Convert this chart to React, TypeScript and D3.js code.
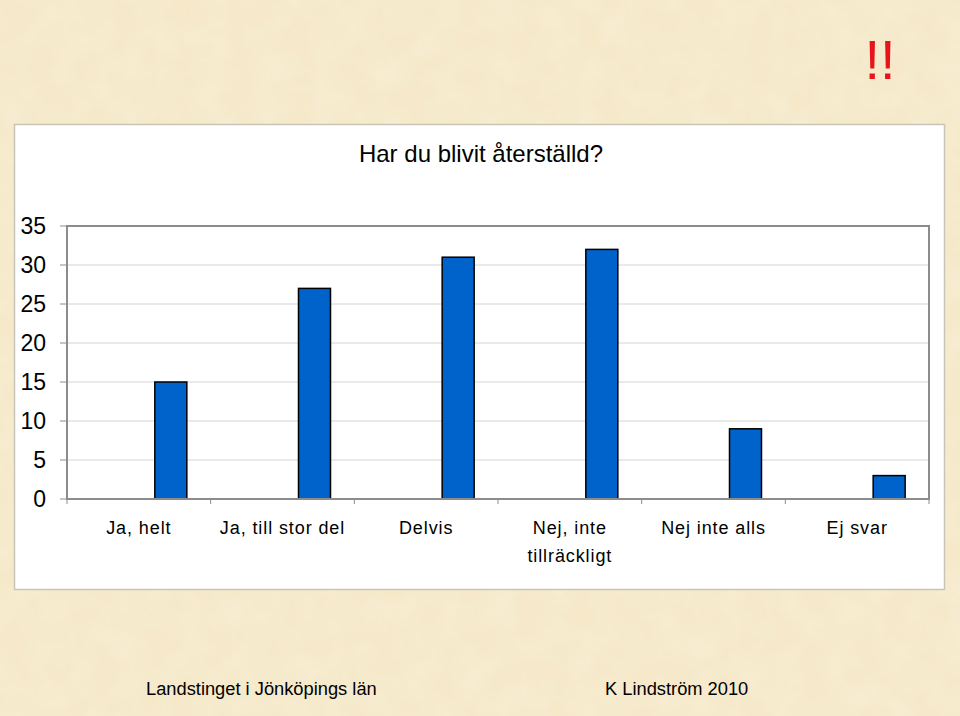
import React from 'react';
import * as d3 from 'd3';

const categories = ['Ja, helt', 'Ja, till stor del', 'Delvis', 'Nej, inte\ntillräckligt', 'Nej inte alls', 'Ej svar'];
const values = [15, 27, 31, 32, 9, 3];
const seriesSlots = ['s1', 's2', 's3'];
const yTicks = [0, 5, 10, 15, 20, 25, 30, 35];
const title = 'Har du blivit återställd?';
const footerLeft = 'Landstinget i Jönköpings län';
const footerRight = 'K Lindström 2010';

const App = () => {
  const W = 960, H = 716;
  const plot = { left: 67, top: 226, right: 929, bottom: 499 };

  const x = d3.scaleBand<string>()
    .domain(categories)
    .range([plot.left, plot.right])
    .padding(0);

  // three series slots per category, only the last one holds data
  const xInner = d3.scaleBand<string>()
    .domain(seriesSlots)
    .range([0, x.bandwidth()])
    .paddingInner(0)
    .paddingOuter(0.745);

  const y = d3.scaleLinear()
    .domain([0, 35])
    .range([plot.bottom, plot.top]);

  const font = 'Arial, "Liberation Sans", Helvetica, sans-serif';

  return (
    <>
      <style>{'body{margin:0}'}</style>
      <svg width={W} height={H} style={{ display: 'block' }}>
        <defs>
          <filter id="paper">
            <feTurbulence type="fractalNoise" baseFrequency="0.035" numOctaves="3" seed="4" />
            <feColorMatrix type="matrix" values="0 0 0 0 0.99  0 0 0 0 0.94  0 0 0 0 0.82  0 0 0 0.35 0" />
            <feComposite in2="SourceGraphic" operator="over" />
          </filter>
        </defs>
        <rect x={0} y={0} width={W} height={H} fill="#f6e8c7" />
        <rect x={0} y={0} width={W} height={H} fill="#f6e8c7" filter="url(#paper)" opacity={0.9} />

        <text x={880} y={79} fill="#e8141c" fontFamily={'"Liberation Sans Narrow", ' + font}
          fontSize={56} textAnchor="middle">!!</text>

        {/* white chart panel */}
        <rect x={14.5} y={124.5} width={930} height={465} fill="#ffffff" stroke="#c9c4b8" strokeWidth={1.5} />

        <text x={481} y={162} fontFamily={font} fontSize={24} textAnchor="middle" fill="#000">{title}</text>

        {/* gridlines */}
        {yTicks.filter(t => t > 0).map(t => (
          <line key={t} x1={plot.left} x2={plot.right} y1={y(t)} y2={y(t)} stroke="#d4d4d4" strokeWidth={1} />
        ))}

        {/* bars */}
        {categories.map((c, i) => (
          <rect key={c}
            x={(x(c) as number) + (xInner('s3') as number)}
            y={y(values[i])}
            width={xInner.bandwidth()}
            height={y(0) - y(values[i])}
            fill="#0063cc" stroke="#000" strokeWidth={1.5} />
        ))}

        {/* plot border */}
        <rect x={plot.left} y={plot.top} width={plot.right - plot.left} height={plot.bottom - plot.top}
          fill="none" stroke="#8c8c8c" strokeWidth={2} />

        {/* y ticks */}
        {yTicks.map(t => (
          <g key={t}>
            <line x1={plot.left - 7} x2={plot.left} y1={y(t)} y2={y(t)} stroke="#8c8c8c" strokeWidth={1} />
            <text x={46} y={y(t) + 8} fontFamily={font} fontSize={23} textAnchor="end" fill="#000">{t}</text>
          </g>
        ))}

        {/* x ticks */}
        {categories.map(c => (
          <line key={c} x1={x(c) as number} x2={x(c) as number} y1={plot.bottom} y2={plot.bottom + 5}
            stroke="#8c8c8c" strokeWidth={1} />
        ))}
        <line x1={plot.right} x2={plot.right} y1={plot.bottom} y2={plot.bottom + 5} stroke="#8c8c8c" strokeWidth={1} />

        {/* category labels */}
        {categories.map(c => {
          const cx = (x(c) as number) + x.bandwidth() / 2;
          return c.split('\n').map((line, j) => (
            <text key={c + j} x={cx} y={534 + j * 28} fontFamily={font} fontSize={18}
              letterSpacing={0.9} textAnchor="middle" fill="#000">{line}</text>
          ));
        })}

        {/* footer */}
        <text x={146} y={695} fontFamily={font} fontSize={18.3} fill="#000">{footerLeft}</text>
        <text x={605} y={695} fontFamily={font} fontSize={18.3} fill="#000">{footerRight}</text>
      </svg>
    </>
  );
};

export default App;
